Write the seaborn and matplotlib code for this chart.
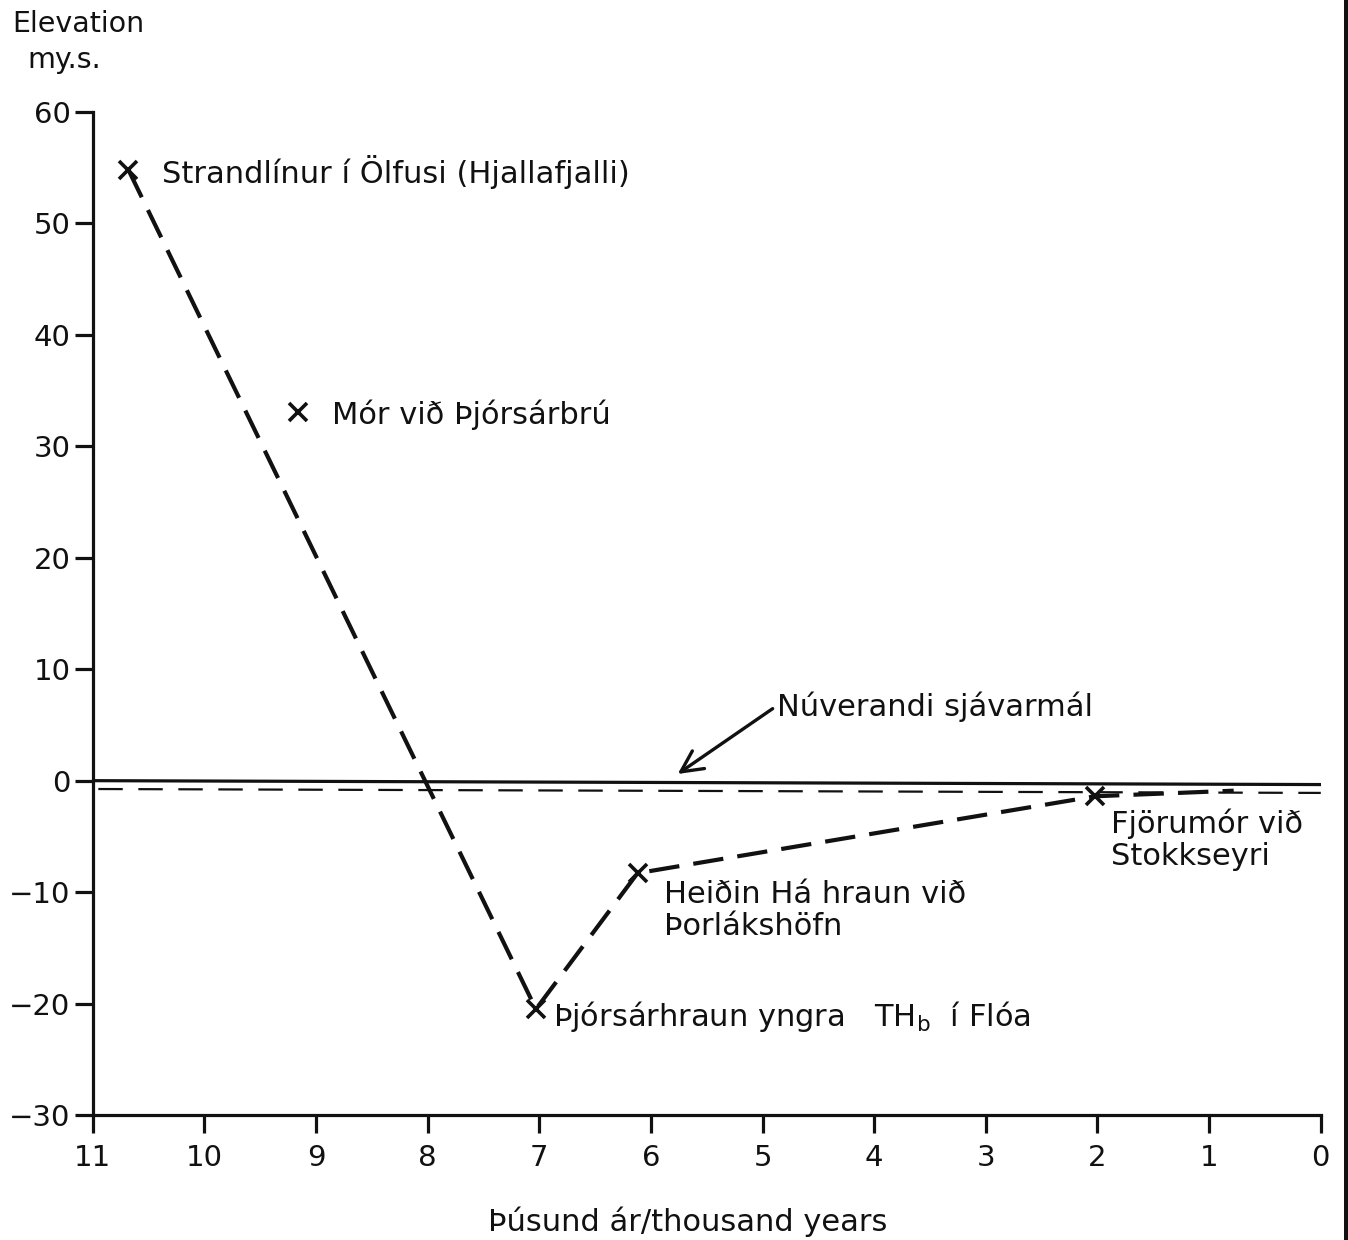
import matplotlib
matplotlib.use("Agg")
import matplotlib.pyplot as plt
from matplotlib.patches import Rectangle
import seaborn as sns
import pandas as pd

# Dated sites: age (thousand years) and elevation (m a.s.l.)
site_names = [
    "Strandlínur í Ölfusi (Hjallafjalli)",
    "Mór við Þjórsárbrú",
    "Þjórsárhraun yngra   TH$_\\mathregular{b}$  í Flóa",
    "Heiðin Há hraun við\nÞorlákshöfn",
    "Fjörumór við\nStokkseyri",
]
site_age = [10.68, 9.16, 7.03, 6.12, 2.02]
site_elev = [54.8, 33.1, -20.5, -8.3, -1.4]

# Inferred shoreline curve through the sites
curve_age = [10.68, 7.03, 6.12, 2.02, 0.78]
curve_elev = [54.8, -20.5, -8.3, -1.4, -0.9]

# Present sea level and the reference datum just below it
present_age = [11, 0]
present_elev = [0.0, -0.35]
datum_age = [10.95, 0]
datum_elev = [-0.75, -1.1]

x_ticks = [11, 10, 9, 8, 7, 6, 5, 4, 3, 2, 1, 0]
y_ticks = [60, 50, 40, 30, 20, 10, 0, -10, -20, -30]

sns.set_theme(style="ticks")
plt.rcParams["font.family"] = ["DejaVu Sans"]
plt.rcParams["axes.unicode_minus"] = True

fig = plt.figure(figsize=(13.48, 12.40), dpi=100)
ax = fig.add_axes([0.0688, 0.1008, 0.9110, 0.8089])

sites = pd.DataFrame({"age": site_age, "elev": site_elev, "name": site_names})
curve = pd.DataFrame({"age": curve_age, "elev": curve_elev})
present = pd.DataFrame({"age": present_age, "elev": present_elev})
datum = pd.DataFrame({"age": datum_age, "elev": datum_elev})

ink = "#111111"

sns.lineplot(data=present, x="age", y="elev", ax=ax, color=ink, lw=2.3,
             sort=False, estimator=None)
sns.lineplot(data=datum, x="age", y="elev", ax=ax, color=ink, lw=1.6,
             sort=False, estimator=None, linestyle=(0, (11, 7)))
sns.lineplot(data=curve, x="age", y="elev", ax=ax, color=ink, lw=3.0,
             sort=False, estimator=None, linestyle=(0, (7.3, 3.4)))
ax.plot(sites["age"], sites["elev"], linestyle="none", marker="x",
        markersize=13, markeredgewidth=2.6, color=ink, zorder=5)

# Site labels
label_size = 22
label_pos = [
    (10.38, 54.6, "center"),
    (8.86, 32.8, "center"),
    (6.88, -21.2, "center"),
    (5.88, -8.9, "top"),
    (1.88, -2.5, "top"),
]
for name, (lx, ly, va) in zip(site_names, label_pos):
    ax.text(lx, ly, name, fontsize=label_size, color=ink, ha="left", va=va,
            linespacing=1.12)

ax.annotate("Núverandi sjávarmál", xy=(5.76, 0.6), xytext=(4.87, 6.6),
            fontsize=label_size, color=ink, ha="left", va="center",
            arrowprops=dict(arrowstyle="->,head_length=0.7,head_width=0.35",
                            color=ink, lw=2.4, shrinkA=1, shrinkB=0,
                            relpos=(0.0, 0.55)))

ax.set_xlim(11, 0)
ax.set_ylim(-30, 60)
ax.set_xticks(x_ticks)
ax.set_yticks(y_ticks)
ax.set_xticklabels([str(v) for v in x_ticks])
ax.set_yticklabels([str(v).replace("-", "\u2212") for v in y_ticks])
ax.tick_params(axis="both", direction="out", length=13, width=2.3,
               colors=ink, labelsize=21)
ax.tick_params(axis="x", pad=8)
ax.tick_params(axis="y", pad=3)

sns.despine(ax=ax, top=True, right=True)
for side in ("left", "bottom"):
    ax.spines[side].set_linewidth(2.3)
    ax.spines[side].set_color(ink)

ax.set_xlabel("")
ax.set_ylabel("")
fig.text(688 / 1348, 1 - 1222 / 1240, "Þúsund ár/thousand years", fontsize=22,
         color=ink, ha="center", va="center")
fig.text(0.009, 0.981, "Elevation", fontsize=20.5, color=ink, ha="left", va="center")
fig.text(0.020, 0.952, "my.s.", fontsize=20.5, color=ink, ha="left", va="center")

# Dark strip along the right edge of the sheet
fig.add_artist(Rectangle((1344 / 1348, 0), 4 / 1348, 1, transform=fig.transFigure,
                         color=ink, lw=0))

fig.savefig("out.png", dpi=100, facecolor="white")
